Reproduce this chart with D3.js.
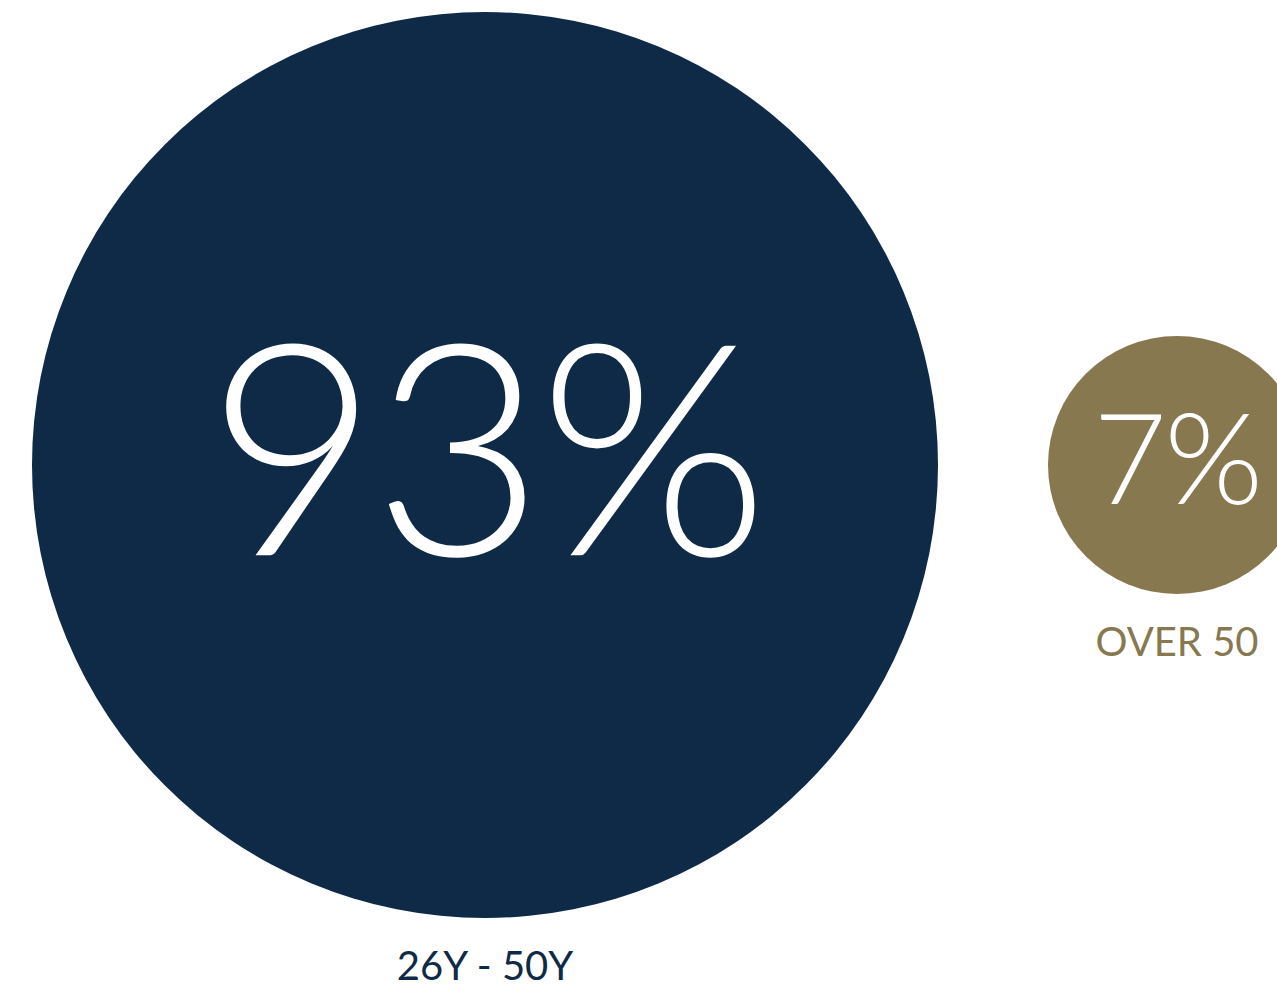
<!DOCTYPE html>
<html>
<head>
<meta charset="utf-8">
<script src="https://cdn.jsdelivr.net/npm/d3@7"></script>
<style>
  html, body { margin: 0; padding: 0; background: #ffffff; overflow: hidden; }
  svg { display: block; }
</style>
</head>
<body>
<svg id="chart" width="1277" height="990"></svg>
<script>
// Age groups and their share of the total (percent)
const categories = ["26Y - 50Y", "OVER 50"];
const shares = [93, 7];
const colors = ["#0e2a47", "#87784f"];

const width = 1277, height = 990;
const svg = d3.select("#chart");

// Bubble area proportional to share
const r = d3.scaleSqrt().domain([0, 93]).range([6.5, 453]);
// Percentage text grows with bubble radius, but less than proportionally
const fontSize = d3.scaleLinear().domain([129, 453]).range([127, 296]);

const leftMargin = 32, gap = 110, cy = 465;
const nodes = [];
let x = leftMargin;
categories.forEach((c, i) => {
  const rad = r(shares[i]);
  nodes.push({ cat: c, value: shares[i], color: colors[i], r: rad, cx: x + rad });
  x += 2 * rad + gap;
});

const g = svg.selectAll("g.bubble").data(nodes).join("g")
  .attr("class", "bubble")
  .attr("transform", d => `translate(${d.cx},${cy})`);

g.append("circle")
  .attr("r", d => d.r)
  .attr("fill", d => d.color);

// Percentage inside each bubble
g.append("text")
  .attr("text-anchor", "middle")
  .attr("dy", d => fontSize(d.r) * 0.305)
  .attr("fill", "#ffffff")
  .style("font-family", "Lato, 'Open Sans', sans-serif")
  .style("font-weight", 300)
  .style("font-size", d => fontSize(d.r) + "px")
  .style("letter-spacing", d => (-fontSize(d.r) * 0.02) + "px")
  .text(d => d.value + "%");

// Category label below each bubble
g.append("text")
  .attr("text-anchor", "middle")
  .attr("y", d => d.r + 62)
  .attr("fill", d => d.color)
  .style("font-family", "Lato, 'Open Sans', sans-serif")
  .style("font-weight", 400)
  .style("font-size", "40px")
  .text(d => d.cat);
</script>
</body>
</html>
